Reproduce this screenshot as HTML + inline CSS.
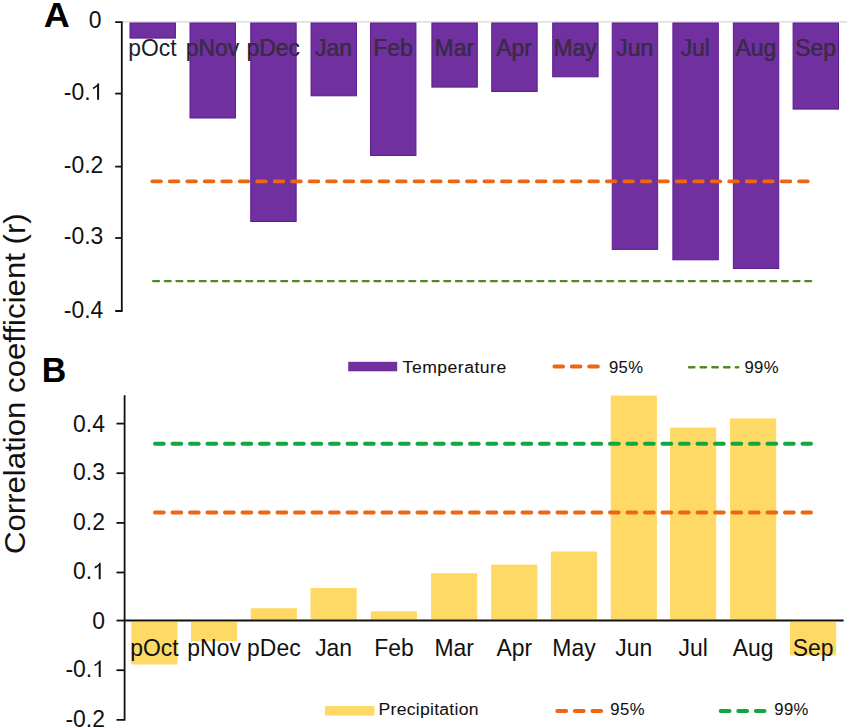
<!DOCTYPE html>
<html><head><meta charset="utf-8"><style>
html,body{margin:0;padding:0;background:#fff;width:849px;height:728px;overflow:hidden;position:relative}
svg text{font-family:"Liberation Sans", sans-serif}
</style></head><body>
<svg width="849" height="728" viewBox="0 0 849 728" style="position:absolute;left:0;top:0">
<line x1="121.8" y1="21.9" x2="847" y2="21.9" stroke="#cccccc" stroke-width="1"/>
<rect x="130.00" y="23.00" width="45.4" height="15.10" fill="#7030A0" stroke="#5A1A92" stroke-width="1"/>
<rect x="190.00" y="23.00" width="45.4" height="95.00" fill="#7030A0" stroke="#5A1A92" stroke-width="1"/>
<rect x="250.75" y="23.00" width="45.4" height="198.50" fill="#7030A0" stroke="#5A1A92" stroke-width="1"/>
<rect x="311.05" y="23.00" width="45.4" height="72.80" fill="#7030A0" stroke="#5A1A92" stroke-width="1"/>
<rect x="370.55" y="23.00" width="45.4" height="132.50" fill="#7030A0" stroke="#5A1A92" stroke-width="1"/>
<rect x="431.90" y="23.00" width="45.4" height="64.10" fill="#7030A0" stroke="#5A1A92" stroke-width="1"/>
<rect x="491.75" y="23.00" width="45.4" height="68.50" fill="#7030A0" stroke="#5A1A92" stroke-width="1"/>
<rect x="552.70" y="23.00" width="45.4" height="53.80" fill="#7030A0" stroke="#5A1A92" stroke-width="1"/>
<rect x="612.25" y="23.00" width="45.4" height="226.40" fill="#7030A0" stroke="#5A1A92" stroke-width="1"/>
<rect x="672.90" y="23.00" width="45.4" height="236.80" fill="#7030A0" stroke="#5A1A92" stroke-width="1"/>
<rect x="733.35" y="23.00" width="45.4" height="245.50" fill="#7030A0" stroke="#5A1A92" stroke-width="1"/>
<rect x="793.10" y="23.00" width="45.4" height="86.10" fill="#7030A0" stroke="#5A1A92" stroke-width="1"/>
<path d="M115.2 22.2 H121.8 V311.0 H115.2" fill="none" stroke="#111" stroke-width="1.8"/>
<line x1="115.2" y1="93.60" x2="121.8" y2="93.60" stroke="#111" stroke-width="1.8"/>
<line x1="115.2" y1="166.60" x2="121.8" y2="166.60" stroke="#111" stroke-width="1.8"/>
<line x1="115.2" y1="238.00" x2="121.8" y2="238.00" stroke="#111" stroke-width="1.8"/>
<text transform="translate(101.60,28.45) scale(0.955,1)" text-anchor="end" font-size="24" fill="#111" >0</text>
<text transform="translate(90.55,99.85) scale(0.955,1)" text-anchor="end" font-size="24" fill="#111" >-0.</text><polygon points="97.08,99.85 99.09,99.85 99.09,83.34 97.78,83.34 97.27,84.26 96.37,85.32 95.03,86.37 93.05,87.14 93.05,89.13 94.47,88.51 95.92,87.55 97.08,86.41" fill="#111"/>
<text transform="translate(103.30,173.20) scale(0.955,1)" text-anchor="end" font-size="24" fill="#111" >-0.2</text>
<text transform="translate(103.30,244.35) scale(0.955,1)" text-anchor="end" font-size="24" fill="#111" >-0.3</text>
<text transform="translate(103.30,317.55) scale(0.955,1)" text-anchor="end" font-size="24" fill="#111" >-0.4</text>
<clipPath id="cb"><rect x="129.50" y="22.20" width="46.4" height="16.40"/><rect x="189.50" y="22.20" width="46.4" height="96.30"/><rect x="250.25" y="22.20" width="46.4" height="199.80"/><rect x="310.55" y="22.20" width="46.4" height="74.10"/><rect x="370.05" y="22.20" width="46.4" height="133.80"/><rect x="431.40" y="22.20" width="46.4" height="65.40"/><rect x="491.25" y="22.20" width="46.4" height="69.80"/><rect x="552.20" y="22.20" width="46.4" height="55.10"/><rect x="611.75" y="22.20" width="46.4" height="227.70"/><rect x="672.40" y="22.20" width="46.4" height="238.10"/><rect x="732.85" y="22.20" width="46.4" height="246.80"/><rect x="792.60" y="22.20" width="46.4" height="87.40"/></clipPath>
<text transform="translate(152.40,55.80) scale(0.955,1)" text-anchor="middle" font-size="24" fill="#1e1e28" >pOct</text>
<text transform="translate(212.40,55.80) scale(0.955,1)" text-anchor="middle" font-size="24" fill="#1e1e28" >pNov</text>
<text transform="translate(273.15,55.80) scale(0.955,1)" text-anchor="middle" font-size="24" fill="#1e1e28" >pDec</text>
<text transform="translate(333.45,55.80) scale(0.955,1)" text-anchor="middle" font-size="24" fill="#1e1e28" >Jan</text>
<text transform="translate(392.95,55.80) scale(0.955,1)" text-anchor="middle" font-size="24" fill="#1e1e28" >Feb</text>
<text transform="translate(454.30,55.80) scale(0.955,1)" text-anchor="middle" font-size="24" fill="#1e1e28" >Mar</text>
<text transform="translate(514.15,55.80) scale(0.955,1)" text-anchor="middle" font-size="24" fill="#1e1e28" >Apr</text>
<text transform="translate(575.10,55.80) scale(0.955,1)" text-anchor="middle" font-size="24" fill="#1e1e28" >May</text>
<text transform="translate(634.65,55.80) scale(0.955,1)" text-anchor="middle" font-size="24" fill="#1e1e28" >Jun</text>
<text transform="translate(695.30,55.80) scale(0.955,1)" text-anchor="middle" font-size="24" fill="#1e1e28" >Jul</text>
<text transform="translate(755.75,55.80) scale(0.955,1)" text-anchor="middle" font-size="24" fill="#1e1e28" >Aug</text>
<text transform="translate(815.50,55.80) scale(0.955,1)" text-anchor="middle" font-size="24" fill="#1e1e28" >Sep</text>
<g clip-path="url(#cb)">
<text transform="translate(152.40,55.80) scale(0.955,1)" text-anchor="middle" font-size="24" fill="#3b2d47" >pOct</text>
<text transform="translate(212.40,55.80) scale(0.955,1)" text-anchor="middle" font-size="24" fill="#3b2d47" >pNov</text>
<text transform="translate(273.15,55.80) scale(0.955,1)" text-anchor="middle" font-size="24" fill="#3b2d47" >pDec</text>
<text transform="translate(333.45,55.80) scale(0.955,1)" text-anchor="middle" font-size="24" fill="#3b2d47" >Jan</text>
<text transform="translate(392.95,55.80) scale(0.955,1)" text-anchor="middle" font-size="24" fill="#3b2d47" >Feb</text>
<text transform="translate(454.30,55.80) scale(0.955,1)" text-anchor="middle" font-size="24" fill="#3b2d47" >Mar</text>
<text transform="translate(514.15,55.80) scale(0.955,1)" text-anchor="middle" font-size="24" fill="#3b2d47" >Apr</text>
<text transform="translate(575.10,55.80) scale(0.955,1)" text-anchor="middle" font-size="24" fill="#3b2d47" >May</text>
<text transform="translate(634.65,55.80) scale(0.955,1)" text-anchor="middle" font-size="24" fill="#3b2d47" >Jun</text>
<text transform="translate(695.30,55.80) scale(0.955,1)" text-anchor="middle" font-size="24" fill="#3b2d47" >Jul</text>
<text transform="translate(755.75,55.80) scale(0.955,1)" text-anchor="middle" font-size="24" fill="#3b2d47" >Aug</text>
<text transform="translate(815.50,55.80) scale(0.955,1)" text-anchor="middle" font-size="24" fill="#3b2d47" >Sep</text>
</g>
<line x1="152.2" y1="181.4" x2="809.6" y2="181.4" stroke="#EC6614" stroke-width="3.6" stroke-linecap="round" stroke-dasharray="8.9 8.58"/>
<line x1="153.2" y1="281.1" x2="812" y2="281.1" stroke="#4E8A24" stroke-width="2.4" stroke-linecap="round" stroke-dasharray="5.8 5.845"/>
<rect x="348.2" y="361.8" width="49" height="9.5" fill="#7030A0"/>
<text transform="translate(402.60,372.90) scale(1.13,1)" font-size="15.6" letter-spacing="0.42" fill="#111" stroke="#111" stroke-width="0.05">Temperature</text>
<line x1="554.4" y1="366.6" x2="598.1" y2="366.6" stroke="#EC6614" stroke-width="4" stroke-linecap="round" stroke-dasharray="8.6 8.8"/>
<text transform="translate(609.00,372.90) scale(1.07,1)" font-size="15.6" letter-spacing="0.3" fill="#111" stroke="#111" stroke-width="0.05">95%</text>
<line x1="689.1" y1="367.2" x2="738.1" y2="367.2" stroke="#4E8A24" stroke-width="2.6" stroke-linecap="round" stroke-dasharray="5.2 6.5"/>
<text transform="translate(744.50,373.20) scale(1.07,1)" font-size="15.6" letter-spacing="0.3" fill="#111" stroke="#111" stroke-width="0.05">99%</text>
<rect x="131.25" y="622.05" width="46.2" height="42.45" fill="#FFD966"/>
<rect x="191.00" y="622.05" width="46.2" height="19.25" fill="#FFD966"/>
<rect x="250.75" y="608.20" width="46.2" height="11.35" fill="#FFD966"/>
<rect x="310.50" y="588.00" width="46.2" height="31.55" fill="#FFD966"/>
<rect x="370.80" y="611.30" width="46.2" height="8.25" fill="#FFD966"/>
<rect x="431.05" y="573.20" width="46.2" height="46.35" fill="#FFD966"/>
<rect x="491.15" y="564.60" width="46.2" height="54.95" fill="#FFD966"/>
<rect x="550.85" y="551.50" width="46.2" height="68.05" fill="#FFD966"/>
<rect x="610.70" y="395.50" width="46.2" height="224.05" fill="#FFD966"/>
<rect x="670.05" y="427.60" width="46.2" height="191.95" fill="#FFD966"/>
<rect x="730.05" y="418.40" width="46.2" height="201.15" fill="#FFD966"/>
<rect x="789.95" y="622.05" width="46.2" height="33.45" fill="#FFD966"/>
<line x1="124.6" y1="620.55" x2="843.6" y2="620.55" stroke="#111" stroke-width="2"/>
<path d="M124.6 395.3 V719.9 H116.5" fill="none" stroke="#111" stroke-width="1.8"/>
<line x1="116.5" y1="670.20" x2="124.6" y2="670.20" stroke="#111" stroke-width="1.8"/>
<line x1="116.5" y1="620.55" x2="124.6" y2="620.55" stroke="#111" stroke-width="1.8"/>
<line x1="116.5" y1="572.50" x2="124.6" y2="572.50" stroke="#111" stroke-width="1.8"/>
<line x1="116.5" y1="522.90" x2="124.6" y2="522.90" stroke="#111" stroke-width="1.8"/>
<line x1="116.5" y1="473.20" x2="124.6" y2="473.20" stroke="#111" stroke-width="1.8"/>
<line x1="116.5" y1="423.60" x2="124.6" y2="423.60" stroke="#111" stroke-width="1.8"/>
<text transform="translate(104.90,726.50) scale(0.955,1)" text-anchor="end" font-size="24" fill="#111" >-0.2</text>
<text transform="translate(92.15,676.90) scale(0.955,1)" text-anchor="end" font-size="24" fill="#111" >-0.</text><polygon points="98.68,676.90 100.69,676.90 100.69,660.39 99.38,660.39 98.87,661.31 97.97,662.37 96.63,663.42 94.65,664.19 94.65,666.18 96.07,665.56 97.52,664.60 98.68,663.46" fill="#111"/>
<text transform="translate(104.90,628.55) scale(0.955,1)" text-anchor="end" font-size="24" fill="#111" >0</text>
<text transform="translate(92.15,579.30) scale(0.955,1)" text-anchor="end" font-size="24" fill="#111" >0.</text><polygon points="98.68,579.30 100.69,579.30 100.69,562.79 99.38,562.79 98.87,563.71 97.97,564.77 96.63,565.82 94.65,566.59 94.65,568.58 96.07,567.96 97.52,567.00 98.68,565.86" fill="#111"/>
<text transform="translate(104.90,529.85) scale(0.955,1)" text-anchor="end" font-size="24" fill="#111" >0.2</text>
<text transform="translate(104.90,479.85) scale(0.955,1)" text-anchor="end" font-size="24" fill="#111" >0.3</text>
<text transform="translate(104.90,431.50) scale(0.955,1)" text-anchor="end" font-size="24" fill="#111" >0.4</text>
<text transform="translate(154.35,655.60) scale(0.955,1)" text-anchor="middle" font-size="24" fill="#111" >pOct</text>
<text transform="translate(214.10,655.60) scale(0.955,1)" text-anchor="middle" font-size="24" fill="#111" >pNov</text>
<text transform="translate(273.85,655.60) scale(0.955,1)" text-anchor="middle" font-size="24" fill="#111" >pDec</text>
<text transform="translate(333.60,655.60) scale(0.955,1)" text-anchor="middle" font-size="24" fill="#111" >Jan</text>
<text transform="translate(393.90,655.60) scale(0.955,1)" text-anchor="middle" font-size="24" fill="#111" >Feb</text>
<text transform="translate(454.15,655.60) scale(0.955,1)" text-anchor="middle" font-size="24" fill="#111" >Mar</text>
<text transform="translate(514.25,655.60) scale(0.955,1)" text-anchor="middle" font-size="24" fill="#111" >Apr</text>
<text transform="translate(573.95,655.60) scale(0.955,1)" text-anchor="middle" font-size="24" fill="#111" >May</text>
<text transform="translate(633.80,655.60) scale(0.955,1)" text-anchor="middle" font-size="24" fill="#111" >Jun</text>
<text transform="translate(693.15,655.60) scale(0.955,1)" text-anchor="middle" font-size="24" fill="#111" >Jul</text>
<text transform="translate(753.15,655.60) scale(0.955,1)" text-anchor="middle" font-size="24" fill="#111" >Aug</text>
<text transform="translate(813.05,655.60) scale(0.955,1)" text-anchor="middle" font-size="24" fill="#111" >Sep</text>
<line x1="155" y1="443.8" x2="811" y2="443.8" stroke="#12A640" stroke-width="4" stroke-linecap="round" stroke-dasharray="8.7 8.8"/>
<line x1="155" y1="512.4" x2="811" y2="512.4" stroke="#EC6614" stroke-width="4" stroke-linecap="round" stroke-dasharray="8.7 8.8"/>
<rect x="325" y="706" width="49.5" height="9.6" fill="#FFD966"/>
<text transform="translate(378.60,715.30) scale(1.13,1)" font-size="15.6" letter-spacing="0.22" fill="#111" stroke="#111" stroke-width="0.05">Precipitation</text>
<line x1="557.3" y1="711" x2="601.1" y2="711" stroke="#EC6614" stroke-width="4" stroke-linecap="round" stroke-dasharray="8.8 8.8"/>
<text transform="translate(610.30,715.40) scale(1.07,1)" font-size="15.6" letter-spacing="0.4" fill="#111" stroke="#111" stroke-width="0.05">95%</text>
<line x1="720.7" y1="711" x2="764.5" y2="711" stroke="#12A640" stroke-width="4" stroke-linecap="round" stroke-dasharray="8.8 8.8"/>
<text transform="translate(774.20,715.40) scale(1.07,1)" font-size="15.6" letter-spacing="0.4" fill="#111" stroke="#111" stroke-width="0.05">99%</text>
<text transform="translate(43.8,26.6) scale(1.03,1)" font-size="35" font-weight="bold" fill="#000">A</text>
<text transform="translate(41.7,381.8) scale(0.97,1)" font-size="35" font-weight="bold" fill="#000">B</text>
<text transform="translate(25,554.1) rotate(-90) scale(1,0.93)" font-size="31.2" fill="#111">Correlation coefficient (r)</text>
</svg>
</body></html>
